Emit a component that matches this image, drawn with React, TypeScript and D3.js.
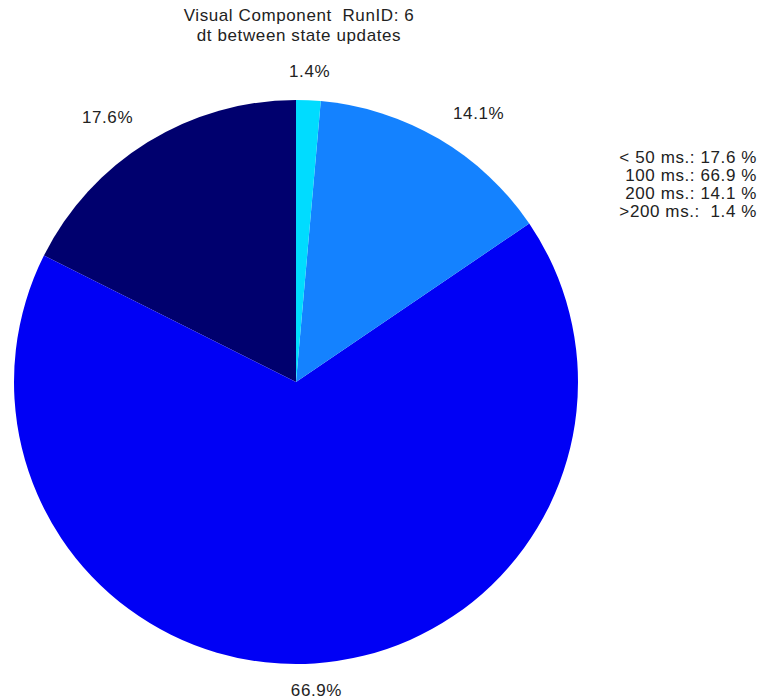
import React from "react";
import * as d3 from "d3";

const categories = ["< 50 ms.", "100 ms.", "200 ms.", ">200 ms."];
const values = [17.6, 66.9, 14.1, 1.4];
const sliceLabels = ["17.6%", "66.9%", "14.1%", "1.4%"];
const legendLabels = ["< 50 ms.: 17.6 %", "100 ms.: 66.9 %", "200 ms.: 14.1 %", ">200 ms.:  1.4 %"];
const colors = ["#00006e", "#0000f5", "#1482ff", "#00dcff"];
const titleLines = ["Visual Component  RunID: 6", "dt between state updates"];

export default function App() {
  const W = 766, H = 699;
  const cx = 296, cy = 382, r = 282;
  const pie = d3.pie<number>().sort(null).startAngle(0).endAngle(-2 * Math.PI);
  const arcs = pie(values);
  const arc = d3.arc<d3.PieArcDatum<number>>().innerRadius(0).outerRadius(r);
  const labelR = r * 1.1;
  const labelArc = d3.arc<d3.PieArcDatum<number>>().innerRadius(labelR).outerRadius(labelR);
  const font = "'Liberation Sans', Arial, Helvetica, sans-serif";
  const fs = 17;
  const ls = 0.6;
  return (
    <svg width={W} height={H} style={{ position: "absolute", left: 0, top: 0, background: "#fff" }}>
      <rect width={W} height={H} fill="#fff" />
      <g transform={`translate(${cx},${cy})`}>
        {arcs.map((a, i) => (
          <path key={categories[i]} d={arc(a) || ""} fill={colors[i]} />
        ))}
        {arcs.map((a, i) => {
          const [x, y] = labelArc.centroid(a);
          const anchor = Math.abs(x) < 40 ? "middle" : x > 0 ? "start" : "end";
          return (
            <text key={"l" + i} x={x} y={y} textAnchor={anchor} dominantBaseline="middle"
              fontFamily={font} fontSize={fs} letterSpacing={ls} fill="#222">
              {sliceLabels[i]}
            </text>
          );
        })}
      </g>
      {titleLines.map((t, i) => (
        <text key={"t" + i} x={299} y={21 + i * 20} textAnchor="middle" fontFamily={font} fontSize={fs}
          letterSpacing={ls} fill="#222" style={{ whiteSpace: "pre" }}>
          {t}
        </text>
      ))}
      {legendLabels.map((t, i) => (
        <text key={"g" + i} x={757} y={163 + i * 18} textAnchor="end" fontFamily={font} fontSize={fs}
          letterSpacing={ls} fill="#222" style={{ whiteSpace: "pre" }}>
          {t}
        </text>
      ))}
    </svg>
  );
}
